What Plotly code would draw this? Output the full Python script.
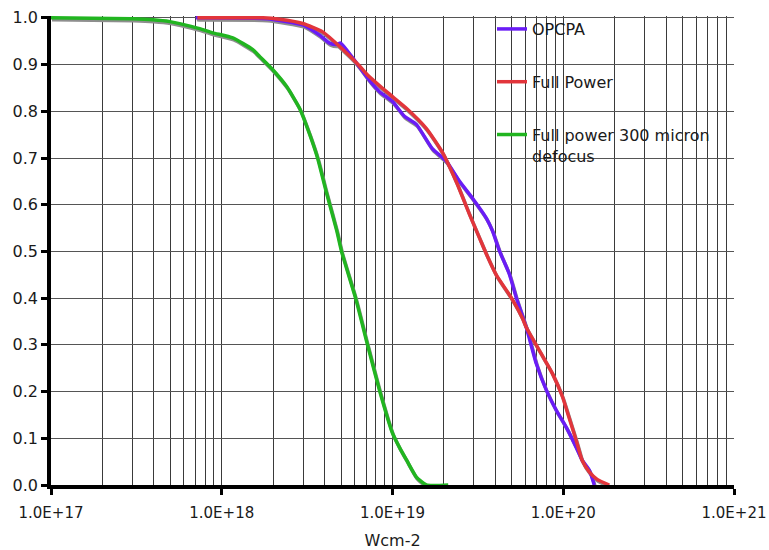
import plotly.graph_objects as go

# ---- data ----
opcpa_x = [7.05e17, 1.83e18, 2.98e18, 3.74e18, 4.28e18, 4.71e18, 4.97e18, 5.83e18, 7.05e18,
           7.64e18, 8.39e18, 1.0e19, 1.17e19, 1.38e19, 1.71e19, 2.07e19, 2.47e19, 2.94e19,
           3.55e19, 3.85e19, 4.23e19, 4.83e19, 5.31e19, 6.08e19, 6.95e19, 7.96e19, 9.10e19,
           1.04e20, 1.19e20, 1.29e20, 1.42e20, 1.52e20]
opcpa_y = [1.0, 0.998, 0.985, 0.963, 0.946, 0.943, 0.946, 0.915, 0.874,
           0.858, 0.842, 0.821, 0.79, 0.772, 0.72, 0.693, 0.65, 0.614,
           0.571, 0.544, 0.501, 0.452, 0.401, 0.337, 0.26, 0.203, 0.16,
           0.124, 0.081, 0.053, 0.032, 0.0]

full_x = [7.2e17, 1.74e18, 2.18e18, 2.98e18, 3.90e18, 5.03e18, 6.41e18, 7.05e18, 9.22e18,
          1.21e19, 1.58e19, 1.96e19, 2.37e19, 2.82e19, 3.23e19, 3.55e19, 4.05e19, 5.04e19,
          5.75e19, 6.08e19, 7.24e19, 8.63e19, 9.87e19, 1.08e20, 1.19e20, 1.29e20, 1.42e20,
          1.58e20, 1.86e20]
full_y = [1.0, 1.0, 0.997, 0.988, 0.970, 0.935, 0.897, 0.880, 0.842,
          0.806, 0.763, 0.712, 0.648, 0.580, 0.529, 0.494, 0.450, 0.397,
          0.358, 0.337, 0.288, 0.239, 0.19, 0.145, 0.096, 0.053, 0.028,
          0.012, 0.0]

defocus_x = [1e17, 3.0e17, 3.95e17, 4.97e17, 6.24e17, 7.43e17, 8.85e17, 1.16e18, 1.52e18,
             1.67e18, 1.99e18, 2.40e18, 2.86e18, 3.27e18, 3.64e18, 4.11e18, 4.71e18, 5.03e18,
             6.08e18, 7.14e18, 8.39e18, 1.0e19, 1.1e19, 1.21e19, 1.38e19, 1.58e19, 2.12e19]
defocus_y = [1.0, 0.998, 0.996, 0.992, 0.984, 0.977, 0.968, 0.957, 0.932,
             0.917, 0.889, 0.853, 0.806, 0.751, 0.70, 0.625, 0.545, 0.50,
             0.40, 0.30, 0.203, 0.111, 0.08, 0.053, 0.017, 0.0, 0.0]

series_names = ["OPCPA", "Full Power", "Full power 300 micron<br>defocus"]
series_colors = ["#6a1cf6", "#e2353b", "#21b520"]
series_x = [opcpa_x, full_x, defocus_x]
series_y = [opcpa_y, full_y, defocus_y]

x_tick_vals = [1e17, 1e18, 1e19, 1e20, 1e21]
x_tick_text = ["1.0E+17", "1.0E+18", "1.0E+19", "1.0E+20", "1.0E+21"]
x_minor_vals = [k * 10.0 ** e for e in range(17, 21) for k in range(2, 10)]
y_tick_vals = [i / 10 for i in range(11)]

FONT = "DejaVu Sans"
W, H = 769, 550
ML, MR, MT, MB = 51, 35, 14, 65
PW = W - ML - MR
PH = H - MT - MB

fig = go.Figure()

# soft grey shadow under each line (small offset down/right)
sh_fx = 10 ** (1.0 / 171)
sh_dy = 2.0 / 469
for xs, ys in zip(series_x, series_y):
    fig.add_trace(go.Scatter(x=[v * sh_fx for v in xs], y=[v - sh_dy for v in ys],
                             mode="lines", line=dict(color="#8e8e8e", width=3.5,
                                                     shape="spline", smoothing=0.5),
                             showlegend=False, hoverinfo="skip"))

for i, (name, col, xs, ys) in enumerate(zip(series_names, series_colors, series_x, series_y)):
    fig.add_trace(go.Scatter(x=xs, y=ys, mode="lines", name=name,
                             legendgroup=f"g{i}",
                             line=dict(color=col, width=3.5, shape="spline", smoothing=0.5)))

# white legend panel: hides the grid behind the legend but not the top border line
fig.add_shape(type="rect", layer="between",
              xref="paper", yref="y",
              x0=(490 - ML) / PW, x1=(722 - ML) / PW, y0=0.665, y1=0.996,
              fillcolor="white", line=dict(width=0))

fig.update_layout(
    width=W, height=H,
    margin=dict(l=ML, r=MR, t=MT, b=MB),
    paper_bgcolor="white", plot_bgcolor="white",
    font=dict(family=FONT, size=16, color="#1a1a1a"),
    showlegend=True,
    legend=dict(x=(492 - ML) / PW, y=1.0 + 4 / PH, xanchor="left", yanchor="top",
                bgcolor="rgba(0,0,0,0)", borderwidth=0, traceorder="grouped",
                tracegroupgap=29, valign="top",
                font=dict(family=FONT, size=16, color="#1a1a1a")),
)

fig.update_xaxes(
    type="log", range=[17, 21], automargin=False,
    tickmode="array", tickvals=x_tick_vals, ticktext=x_tick_text,
    tickfont=dict(family=FONT, size=15),
    ticks="outside", ticklen=6, tickwidth=3, tickcolor="black",
    showline=True, linecolor="black", linewidth=3.5,
    showgrid=True, gridcolor="#3a3a3a", gridwidth=1,
    minor=dict(tickmode="array", tickvals=x_minor_vals, showgrid=True,
               gridcolor="#3a3a3a", gridwidth=1, ticks=""),
    ticklabelstandoff=5,
    title=dict(text="Wcm-2", standoff=17, font=dict(family=FONT, size=16)),
    zeroline=False,
)
fig.update_yaxes(
    range=[0, 1.004], automargin=False,
    tickmode="array", tickvals=y_tick_vals, tickformat=".1f",
    tickfont=dict(family=FONT, size=16),
    ticks="outside", ticklen=6, tickwidth=3, tickcolor="black",
    showline=True, linecolor="black", linewidth=3.5,
    showgrid=True, gridcolor="#555555", gridwidth=1.2,
    zeroline=False,
)

fig.write_html("out.html",
               config={"displayModeBar": False},
               post_script="document.body.style.margin='0px';document.body.style.overflow='hidden';")
